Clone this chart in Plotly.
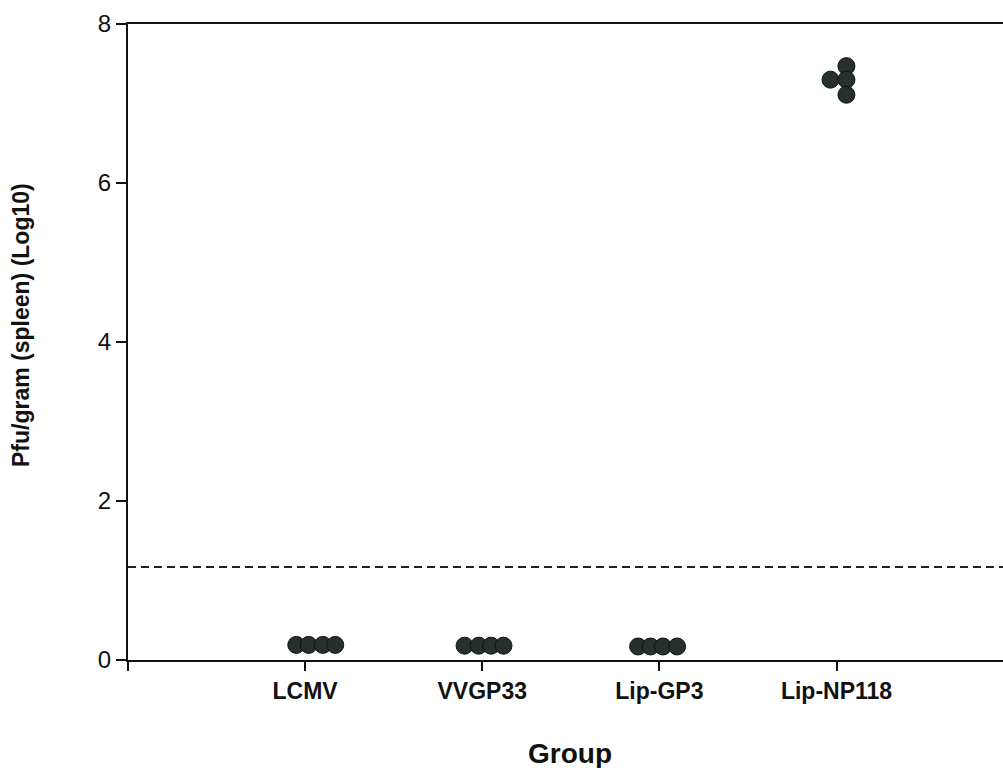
import plotly.graph_objects as go

categories = ["LCMV", "VVGP33", "Lip-GP3", "Lip-NP118"]
group_pos = [1, 2, 3, 4]
# individual animals: group index, horizontal scatter offset, value (log10 pfu/gram)
pt_group = [0, 0, 0, 0, 1, 1, 1, 1, 2, 2, 2, 2, 3, 3, 3, 3]
pt_offset = [-0.05, 0.02, 0.10, 0.17, -0.10, -0.02, 0.05, 0.12,
             -0.12, -0.05, 0.02, 0.10, 0.056, -0.034, 0.056, 0.056]
pt_value = [0.19, 0.19, 0.19, 0.19, 0.18, 0.18, 0.18, 0.18,
            0.17, 0.17, 0.17, 0.17, 7.47, 7.30, 7.30, 7.11]
detection_limit = 1.17
y_ticks = [0, 2, 4, 6, 8]

xs = [group_pos[g] + o for g, o in zip(pt_group, pt_offset)]

fig = go.Figure()
fig.add_trace(go.Scatter(
    x=xs, y=pt_value, mode="markers",
    marker=dict(size=17, color="#26302c", line=dict(color="#111111", width=1)),
    showlegend=False, cliponaxis=False, hoverinfo="skip",
))
fig.add_shape(type="line", xref="paper", yref="y", x0=0, x1=1,
              y0=detection_limit, y1=detection_limit,
              line=dict(color="#222222", width=1.8, dash="8px,5px"))

fig.add_annotation(text="<b>Pfu/gram (spleen) (Log10)</b>", textangle=-90,
                   xref="paper", yref="paper", x=0, y=0.5, xanchor="center", yanchor="middle",
                   xshift=-107, yshift=17, showarrow=False, font=dict(size=23))
fig.add_annotation(text="<b>Group</b>", xref="paper", yref="paper", x=0.505, y=0,
                   xanchor="center", yanchor="middle", yshift=-93, showarrow=False,
                   font=dict(size=28))

fig.update_layout(
    width=1003, height=768,
    margin=dict(l=128, r=0, t=24, b=108),
    paper_bgcolor="white", plot_bgcolor="white",
    font=dict(family="Liberation Sans, Arial, sans-serif", color="#111111"),
    xaxis=dict(
        range=[0, 4.94],
        tickvals=[0] + group_pos, ticktext=[""] + [f"<b>{c}</b>" for c in categories],
        ticks="outside", ticklen=9, tickwidth=2, tickcolor="#111111",
        showline=True, linecolor="#111111", linewidth=2, mirror=True,
        showgrid=False, zeroline=False,
        tickfont=dict(size=23),
    ),
    yaxis=dict(
        range=[0, 8], tickvals=y_ticks,
        ticks="outside", ticklen=10, tickwidth=2, tickcolor="#111111",
        showline=True, linecolor="#111111", linewidth=2,
        showgrid=False, zeroline=False,
        tickfont=dict(size=24),
    ),
)

fig.write_html("out.html", config={"displayModeBar": False},
               post_script="document.body.style.margin='0';")
